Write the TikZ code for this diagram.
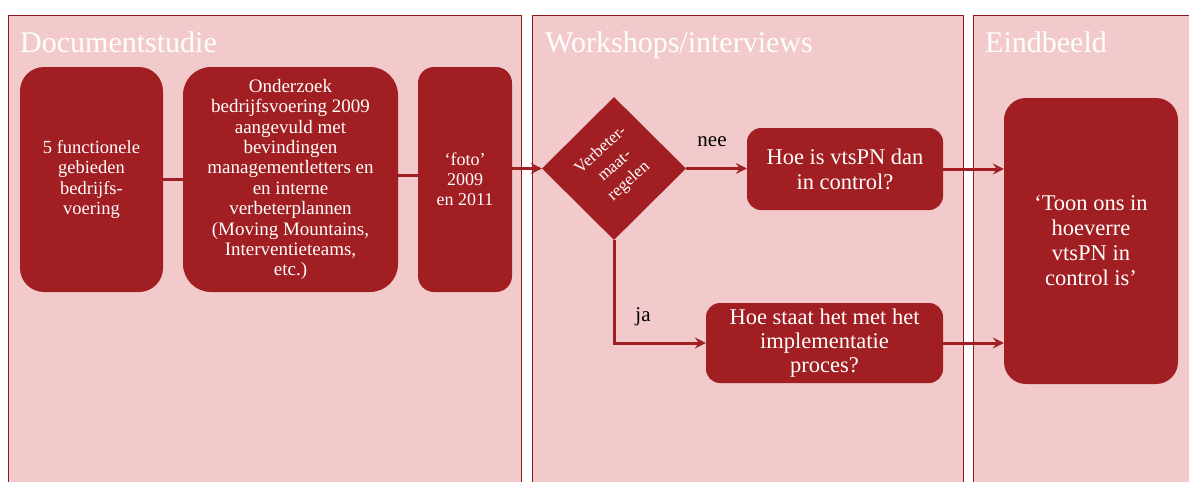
\documentclass[tikz,border=0pt]{standalone}
\usepackage{fontspec}
\setmainfont{Liberation Serif}
\usetikzlibrary{shapes.geometric,arrows.meta}
\definecolor{panelpink}{HTML}{F3CACB}
\definecolor{boxred}{HTML}{A11E22}
\definecolor{borderred}{HTML}{8E1B1E}
\tikzset{
  panel/.style={fill=panelpink,draw=borderred,line width=0.8pt},
  ptitle/.style={anchor=base west,text=white,font=\fontsize{30}{32}\selectfont,inner sep=0pt},
  rbox/.style={fill=boxred,draw=none,rounded corners=#1,align=center,text=white,inner sep=0pt},
  rbox/.default=22pt,
  conn/.style={draw=boxred,line width=3pt},
  arr/.style={conn,-{Stealth[length=11pt,width=11pt,inset=4pt]}},
  lbl/.style={text=black,font=\fontsize{21}{22}\selectfont,inner sep=0pt}
}
\begin{document}
\begin{tikzpicture}[x=1pt,y=-1pt]
\useasboundingbox (0,0) rectangle (1189,482);
% panels
\path[panel] (8,15) rectangle (521,490);
\path[panel] (532,15) rectangle (963,490);
\path[panel] (973,15) rectangle (1195,490);
\node[ptitle] (t1) at (20,52) {Documentstudie};
\node[ptitle] (t2) at (545,52) {Workshops/interviews};
\node[ptitle] (t3) at (985,52) {Eindbeeld};
% boxes
\node[rbox=24pt,minimum width=143pt,minimum height=225pt,font=\fontsize{18.5}{20.4}\selectfont] (b1) at (91.5,179.5)
  {5 functionele\\gebieden\\bedrijfs-\\voering};
\node[rbox=28pt,minimum width=215pt,minimum height=225pt,font=\fontsize{19}{20.4}\selectfont] (b2) at (290.5,179.5)
  {Onderzoek\\bedrijfsvoering 2009\\aangevuld met\\bevindingen\\managementletters en\\en interne\\verbeterplannen\\(Moving Mountains,\\Interventieteams,\\etc.)};
\node[rbox=16pt,minimum width=94pt,minimum height=225pt,font=\fontsize{18}{20}\selectfont] (b3) at (465,179.5)
  {`foto'\\2009\\en 2011};
\node[diamond,aspect=1,fill=boxred,inner sep=0pt,minimum width=144pt,minimum height=143pt] (dia) at (614,168.5) {};
\node[text=white,align=center,rotate=42,font=\fontsize{17}{21}\selectfont,inner sep=0pt] (diat) at (615,166) {Verbeter-\\maat-\\regelen};
\node[rbox=14pt,minimum width=196pt,minimum height=82pt,font=\fontsize{22.5}{25}\selectfont] (q1) at (845,169)
  {Hoe is vtsPN dan\\in control?};
\node[rbox=14pt,minimum width=237pt,minimum height=80pt,font=\fontsize{22.5}{24}\selectfont] (q2) at (824.5,343)
  {Hoe staat het met het\\implementatie\\proces?};
\node[rbox=22pt,minimum width=174pt,minimum height=286pt,font=\fontsize{22.5}{25}\selectfont] (end) at (1091,241)
  {`Toon ons in\\hoeverre\\vtsPN in\\control is'};
% connectors
\draw[conn] (b1.east) -- (b2.west);
\draw[conn] (b2.east |- 0,175) -- (b3.west |- 0,175);
\draw[arr] (b3.east |- dia.west) -- (dia.west);
\draw[arr] (dia.east) -- (q1.west |- dia.east);
\draw[arr] (dia.south) |- (q2.west);
\draw[arr] (q1.east) -- (q1.east -| end.west);
\draw[arr] (q2.east) -- (q2.east -| end.west);
\node[lbl] (nee) at (712,142) {nee};
\node[lbl] (ja) at (643,317) {ja};
\end{tikzpicture}
\end{document}
